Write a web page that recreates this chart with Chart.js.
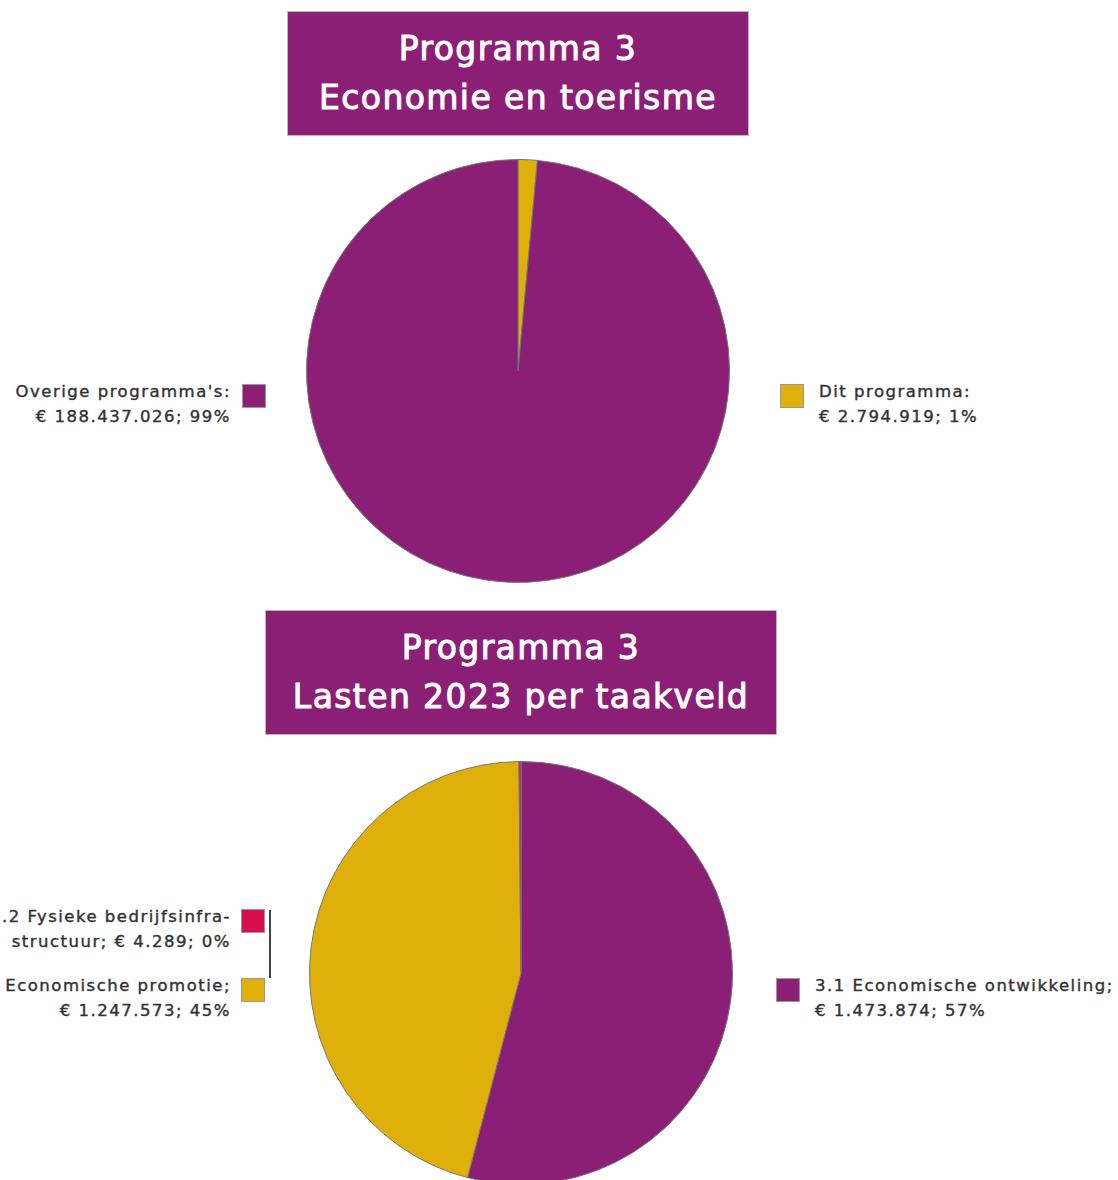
<!DOCTYPE html>
<html>
<head>
<meta charset="utf-8">
<script src="https://cdn.jsdelivr.net/npm/chart.js@4/dist/chart.umd.min.js"></script>
<style>
    html, body { margin: 0; padding: 0; background: #fff; }
    body { width: 1118px; height: 1180px; position: relative; overflow: hidden; font-family: "DejaVu Sans", sans-serif; }
    .title { position: absolute; background: #8b1f76; color: #fff; font-weight: normal; font-size: 33px;
             line-height: 49px; text-align: center; box-sizing: border-box; padding-top: 12px;
             border: 1px solid #bbb; -webkit-text-stroke: 1px #fff; letter-spacing: 1.4px; }
    .pie { position: absolute; }
    .lbl { position: absolute; font-size: 16.5px; line-height: 25px; color: #333; white-space: nowrap;
           letter-spacing: 1.5px; -webkit-text-stroke: 0.4px #333; }
    .lbl.left { text-align: right; }
    .sq { position: absolute; width: 22px; height: 22px; border: 1px solid #999; }
    .vline { position: absolute; width: 2px; background: #444; }
</style>
</head>
<body>
<div class="title" style="left:287px; top:11px; width:462px; height:125px;">Programma 3<br>Economie en toerisme</div>
<div class="pie" style="left:306px; top:159px; width:424px; height:424px;"><canvas id="pieTop"></canvas></div>

<div class="title" style="left:265px; top:610px; width:512px; height:125px;">Programma 3<br>Lasten 2023 per taakveld</div>
<div class="pie" style="left:309px; top:761px; width:424px; height:424px;"><canvas id="pieBottom"></canvas></div>

<div id="labels"></div>

<script>
    // top pie: programma 3 vs rest
    const topNames = ['Dit programma:', "Overige programma's:"];
    const topValueText = ['€ 2.794.919; 1%', '€ 188.437.026; 99%'];
    const topValues = [2794919, 188437026];
    const topColors = ['#e0b00a', '#8b1f76'];

    // bottom pie: lasten per taakveld
    const bottomNames = ['3.1 Economische ontwikkeling;', '3.3 Economische promotie;', '3.2 Fysieke bedrijfsinfra-'];
    const bottomValueText = ['€ 1.473.874; 57%', '€ 1.247.573; 45%', 'structuur; € 4.289; 0%'];
    const bottomValues = [1473874, 1247573, 4289];
    const bottomColors = ['#8b1f76', '#e0b00a', '#d6104f'];

    function makePie(id, labels, values, colors) {
        const ctx = document.getElementById(id).getContext('2d');
        return new Chart(ctx, {
            type: 'pie',
            data: {
                labels: labels,
                datasets: [{
                    data: values,
                    backgroundColor: colors,
                    borderColor: '#777',
                    borderWidth: 1
                }]
            },
            options: {
                responsive: true,
                maintainAspectRatio: true,
                animation: false,
                layout: { padding: 0 },
                plugins: {
                    legend: { display: false },
                    tooltip: { enabled: false }
                }
            }
        });
    }

    makePie('pieTop', topNames, topValues, topColors);
    makePie('pieBottom', bottomNames, bottomValues, bottomColors);

    // side labels with colour squares
    const holder = document.getElementById('labels');
    function addLabel(side, x, sqX, y, name, valueText, color) {
        const d = document.createElement('div');
        d.className = 'lbl ' + side;
        d.innerHTML = name + '<br>' + valueText;
        if (side === 'left') {
            d.style.right = (1118 - x) + 'px';
        } else {
            d.style.left = x + 'px';
        }
        d.style.top = y + 'px';
        holder.appendChild(d);
        const s = document.createElement('div');
        s.className = 'sq';
        s.style.left = sqX + 'px';
        s.style.top = (y + 5) + 'px';
        s.style.background = color;
        holder.appendChild(s);
    }

    addLabel('left', 231, 242, 379, topNames[1], topValueText[1], topColors[1]);
    addLabel('right', 819, 780, 379, topNames[0], topValueText[0], topColors[0]);

    addLabel('left', 231, 241, 904, bottomNames[2], bottomValueText[2], bottomColors[2]);
    addLabel('left', 231, 241, 973, bottomNames[1], bottomValueText[1], bottomColors[1]);
    addLabel('right', 815, 776, 973, bottomNames[0], bottomValueText[0], bottomColors[0]);

    const vl = document.createElement('div');
    vl.className = 'vline';
    vl.style.left = '269px';
    vl.style.top = '910px';
    vl.style.height = '68px';
    holder.appendChild(vl);
</script>
</body>
</html>
